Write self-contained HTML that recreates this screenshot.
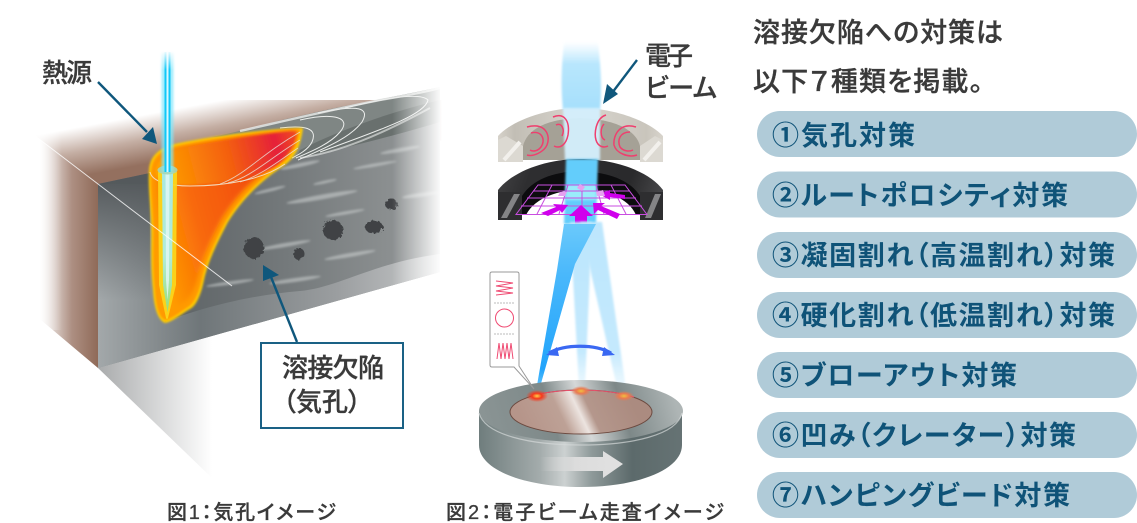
<!DOCTYPE html>
<html lang="ja"><head><meta charset="utf-8">
<style>
html,body{margin:0;padding:0;background:#fff}
svg{display:block}
text{font-family:"Liberation Sans","Noto Sans CJK JP",sans-serif;font-feature-settings:"palt"}
.l{font-size:26px;fill:#3a3a3a;font-weight:500;stroke:#3a3a3a;stroke-width:.3}
.c{font-size:20px;fill:#3a3a3a;font-weight:500;stroke:#3a3a3a;stroke-width:.3}
.h{font-size:27px;fill:#3a3a3a;font-weight:500;stroke:#3a3a3a;stroke-width:.35}
.p{font-size:27px;fill:#0f5378;font-weight:700}
</style></head><body>
<svg width="1137" height="523" viewBox="0 0 1137 523" xmlns="http://www.w3.org/2000/svg">
<defs>
<filter id="b1" x="-30%" y="-30%" width="160%" height="160%"><feGaussianBlur stdDeviation="1"/></filter>
<filter id="b2" x="-50%" y="-50%" width="200%" height="200%"><feGaussianBlur stdDeviation="2"/></filter>
<filter id="rough" x="-30%" y="-30%" width="160%" height="160%"><feTurbulence type="fractalNoise" baseFrequency=".35" numOctaves="2" seed="4"/><feDisplacementMap in="SourceGraphic" scale="5"/></filter>
<linearGradient id="side" x1="98" x2="40" y1="0" y2="0" gradientUnits="userSpaceOnUse"><stop offset="0" stop-color="#8f6a58"/><stop offset=".45" stop-color="#ad8f82"/><stop offset="1" stop-color="#fff"/></linearGradient>
<linearGradient id="topf" x1="232" y1="148" x2="223" y2="100" gradientUnits="userSpaceOnUse"><stop offset="0" stop-color="#94705f"/><stop offset=".5" stop-color="#c4aea3"/><stop offset="1" stop-color="#fff"/></linearGradient>
<linearGradient id="front" x1="98" x2="440" y1="0" y2="0" gradientUnits="userSpaceOnUse"><stop offset="0" stop-color="#6c7477"/><stop offset=".15" stop-color="#595f62"/><stop offset=".55" stop-color="#74797b"/><stop offset=".85" stop-color="#8b8f90"/></linearGradient>
<linearGradient id="low" x1="98" x2="440" y1="0" y2="0" gradientUnits="userSpaceOnUse"><stop offset="0" stop-color="#a3a8aa"/><stop offset=".3" stop-color="#6f7679"/><stop offset=".7" stop-color="#9b9ea0"/><stop offset=".95" stop-color="#c0c2c3"/></linearGradient>
<linearGradient id="dk" x1="0" x2="0" y1="180" y2="300" gradientUnits="userSpaceOnUse"><stop offset="0" stop-color="#54595c"/><stop offset="1" stop-color="#54595c" stop-opacity="0"/></linearGradient>
<linearGradient id="fade" x1="392" x2="442" y1="0" y2="0" gradientUnits="userSpaceOnUse"><stop offset="0" stop-color="#fff" stop-opacity="0"/><stop offset="1" stop-color="#fff"/></linearGradient>
<linearGradient id="lfade" x1="30" x2="62" y1="0" y2="0" gradientUnits="userSpaceOnUse"><stop offset="0" stop-color="#fff"/><stop offset="1" stop-color="#fff" stop-opacity="0"/></linearGradient>
<linearGradient id="shad" x1="98" x2="212" y1="0" y2="0" gradientUnits="userSpaceOnUse"><stop offset="0" stop-color="#a9abac"/><stop offset="1" stop-color="#fff"/></linearGradient>
<linearGradient id="pool" x1="150" x2="300" y1="220" y2="180" gradientUnits="userSpaceOnUse"><stop offset="0" stop-color="#ff9c00"/><stop offset=".3" stop-color="#f8680a"/><stop offset=".7" stop-color="#f24e0c"/><stop offset="1" stop-color="#e4173a"/></linearGradient>
<linearGradient id="ptop" x1="160" y1="170" x2="295" y2="135" gradientUnits="userSpaceOnUse"><stop offset="0" stop-color="#ffa000"/><stop offset=".5" stop-color="#f4600e"/><stop offset=".85" stop-color="#e5203a"/><stop offset="1" stop-color="#f04a20"/></linearGradient>
<linearGradient id="kh" x1="0" x2="0" y1="170" y2="315" gradientUnits="userSpaceOnUse"><stop offset="0" stop-color="#a8e8e0"/><stop offset=".6" stop-color="#b0ecd8"/><stop offset="1" stop-color="#98dc70"/></linearGradient>
<linearGradient id="bfade" x1="0" x2="0" y1="50" y2="70" gradientUnits="userSpaceOnUse"><stop offset="0" stop-color="#fff"/><stop offset="1" stop-color="#fff" stop-opacity="0"/></linearGradient>
<linearGradient id="beamT" x1="0" x2="0" y1="42" y2="105" gradientUnits="userSpaceOnUse"><stop offset="0" stop-color="#bfe9fd" stop-opacity="0"/><stop offset=".35" stop-color="#b8e6fd"/><stop offset="1" stop-color="#a8e0fc"/></linearGradient>
<linearGradient id="beamL" x1="0" x2="0" y1="222" y2="395" gradientUnits="userSpaceOnUse"><stop offset="0" stop-color="#6ccafb"/><stop offset=".3" stop-color="#4ab8fb"/><stop offset=".85" stop-color="#22a4fb"/><stop offset="1" stop-color="#7fd2fb"/></linearGradient>
<linearGradient id="beamS" x1="0" x2="0" y1="222" y2="395" gradientUnits="userSpaceOnUse"><stop offset="0" stop-color="#bce6fd"/><stop offset=".75" stop-color="#c4e9fd"/><stop offset="1" stop-color="#e6f6fd" stop-opacity=".5"/></linearGradient>
<linearGradient id="mag1" x1="498" x2="663" y1="0" y2="0" gradientUnits="userSpaceOnUse"><stop offset="0" stop-color="#d6d2ca"/><stop offset=".1" stop-color="#c2beb5"/><stop offset=".5" stop-color="#d8d5ce"/><stop offset=".9" stop-color="#c9c5bc"/><stop offset="1" stop-color="#d8d4cc"/></linearGradient>
<linearGradient id="mag2" x1="498" x2="663" y1="160" y2="220" gradientUnits="userSpaceOnUse"><stop offset="0" stop-color="#444446"/><stop offset=".2" stop-color="#2e2e30"/><stop offset=".75" stop-color="#2a2a2c"/><stop offset="1" stop-color="#505052"/></linearGradient>
<linearGradient id="diskS" x1="479" x2="683" y1="0" y2="0" gradientUnits="userSpaceOnUse"><stop offset="0" stop-color="#6f7d7d"/><stop offset=".3" stop-color="#a4acac"/><stop offset=".42" stop-color="#ccd1d1"/><stop offset=".55" stop-color="#8f9a9a"/><stop offset=".75" stop-color="#5c6a6b"/><stop offset="1" stop-color="#667374"/></linearGradient>
<linearGradient id="diskT" x1="490" y1="440" x2="670" y2="385" gradientUnits="userSpaceOnUse"><stop offset="0" stop-color="#8a9494"/><stop offset=".35" stop-color="#7e8989"/><stop offset=".52" stop-color="#d5d8d8"/><stop offset=".72" stop-color="#7d8888"/><stop offset="1" stop-color="#aeb5b5"/></linearGradient>
<linearGradient id="diskC" x1="530" y1="436" x2="625" y2="390" gradientUnits="userSpaceOnUse"><stop offset="0" stop-color="#b6958a"/><stop offset=".35" stop-color="#bda196"/><stop offset=".52" stop-color="#ece4e0"/><stop offset=".62" stop-color="#b4978c"/><stop offset="1" stop-color="#ab8b80"/></linearGradient>
<linearGradient id="arw" x1="540" x2="610" y1="0" y2="0" gradientUnits="userSpaceOnUse"><stop offset="0" stop-color="#d8d8d8" stop-opacity="0"/><stop offset=".5" stop-color="#dcdcdc"/><stop offset="1" stop-color="#e0e0e0"/></linearGradient>
<radialGradient id="spot"><stop offset="0" stop-color="#ffd24a"/><stop offset=".45" stop-color="#f4381c"/><stop offset="1" stop-color="#f4381c" stop-opacity="0"/></radialGradient>
<radialGradient id="spot2"><stop offset="0" stop-color="#f0c040"/><stop offset=".5" stop-color="#ea7a50"/><stop offset="1" stop-color="#ea7a50" stop-opacity="0"/></radialGradient>
</defs>
<rect width="1137" height="523" fill="#fff"/>

<!-- FIG 1 -->
<path d="M98 368L212 478V336Z" fill="url(#shad)"/>
<path d="M30 100H445V140L98 186L30 132Z" fill="url(#topf)"/>
<path d="M445 40V100H200Z" fill="#fff"/>
<path d="M30 132L98 184V368L35 315Z" fill="url(#side)"/>
<path d="M98 184L150 173L300 130L440 100V272L98 368Z" fill="url(#front)"/>
<path d="M98 368V184H150L165 322C190 312 240 296 300 291C340 287 372 263 440 254V272Z" fill="url(#low)"/>
<path d="M98 184L150 173V300H98Z" fill="url(#dk)"/>
<!-- bead -->
<path d="M212 137C240 132 270 122 300 116C340 106 380 100 440 87V122C400 134 340 150 290 160L295 135Z" fill="#7f8684"/>
<path d="M300 150C340 130 390 112 440 100V122C400 134 340 150 296 158Z" fill="#5f6665" opacity=".7"/>
<g fill="none" stroke="#eceeec" stroke-width="1">
<path d="M280 128C305 125 318 128 312 142C308 150 298 155 292 158"/>
<path d="M300 120C335 112 352 118 340 132C330 144 310 152 296 158"/>
<path d="M318 113C360 104 370 108 362 122C350 138 325 148 298 160"/>
<path d="M345 108C385 98 420 92 428 100C425 115 380 130 320 152"/>
<path d="M240 131C280 122 330 110 380 100C410 95 425 92 440 88" stroke-width="2.400" opacity=".8"/>
<path d="M300 158C340 152 380 135 430 108" stroke-width="2" opacity=".6"/>
</g>
<!-- streaks -->
<g fill="#cfd3d3" opacity=".55" filter="url(#b1)">
<ellipse cx="322" cy="197" rx="36" ry="2.400" transform="rotate(-10 322 197)"/><ellipse cx="345" cy="213" rx="20" ry="1.600" transform="rotate(-10 345 213)"/>
<ellipse cx="300" cy="165" rx="20" ry="2" transform="rotate(-12 300 165)"/><ellipse cx="325" cy="182" rx="12" ry="1.400" transform="rotate(-12 325 182)"/>
<ellipse cx="285" cy="245" rx="26" ry="2" transform="rotate(-10 285 245)"/><ellipse cx="350" cy="255" rx="26" ry="2" transform="rotate(-10 350 255)"/>
<ellipse cx="295" cy="280" rx="26" ry="2" transform="rotate(-8 295 280)"/><ellipse cx="230" cy="283" rx="24" ry="1.800" transform="rotate(-8 230 283)"/>
<ellipse cx="400" cy="150" rx="20" ry="2" transform="rotate(-10 400 150)"/><ellipse cx="375" cy="165" rx="22" ry="1.600" transform="rotate(-10 375 165)"/>
<ellipse cx="420" cy="195" rx="18" ry="2" transform="rotate(-8 420 195)"/><ellipse cx="270" cy="190" rx="16" ry="1.600" transform="rotate(-14 270 190)"/>
</g>
<!-- pores -->
<g fill="#3f4345" filter="url(#rough)">
<ellipse cx="254" cy="248" rx="10" ry="11"/><ellipse cx="299" cy="254" rx="5.500" ry="6"/><ellipse cx="333" cy="230" rx="10" ry="10"/><ellipse cx="374" cy="227" rx="9" ry="6.500"/><ellipse cx="391" cy="204" rx="6" ry="5.500"/>
</g>
<rect x="390" y="40" width="55" height="250" fill="url(#fade)"/>
<rect x="28" y="90" width="36" height="240" fill="url(#lfade)"/>
<!-- pool -->
<path d="M149 170C150 155 160 148 175 144C200 138 270 128 303 128C301 142 298 155 285 165C265 178 245 195 228 222C216 245 208 262 204 280C201 295 196 306 190 309C180 315 172 322 165 323C158 320 154 308 153 290C150 260 152 240 151 220C150 200 148 185 149 170Z" fill="#ffcc00" filter="url(#b1)"/>
<path d="M151 171C152 157 161 150 176 146C204 140 269 130 300 129C298 142 295 153 283 163C263 177 243 194 226 221C214 244 206 261 202 279C199 293 194 304 188 307C179 313 172 319 165 320C159 317 156 307 155 290C152 260 154 240 153 220C152 200 150 185 151 171Z" fill="#ff9a00" filter="url(#b1)"/>
<path d="M155 172C156 160 164 153 179 149C205 143 268 133 296 132C294 142 291 152 279 161C259 174 239 191 222 218C210 241 202 258 198 276C195 289 190 299 184 302C176 307 171 311 165 312C162 309 159 302 158 290C155 260 157 240 156 220C155 200 154 185 155 172Z" fill="url(#pool)" filter="url(#b2)"/>
<path d="M155 172C156 160 164 153 179 149C205 143 268 133 296 132C294 142 291 152 280 162C268 174 230 183 190 185C170 185 155 182 155 172Z" fill="url(#ptop)" filter="url(#b1)"/>
<path d="M150 172C152 182 170 186 190 186C225 186 262 180 285 164" fill="none" stroke="#f4d8b8" stroke-width="1"/>
<g fill="none" stroke="#e8e4dc" stroke-width=".9" opacity=".8">
<path d="M220 184C245 175 260 155 300 132"/><path d="M228 183C250 178 270 158 300 140"/><path d="M240 182C262 175 280 160 298 148"/>
</g>
<!-- keyhole -->
<path d="M158 172H177L176 285L168 318Q167 320 166 318L159 285Z" fill="#fbd81c" opacity=".9"/>
<path d="M162 172H173L172 285L167.500 312L163 285Z" fill="url(#kh)"/>
<path d="M165.500 172H169.500L169 280L167.500 300L166 280Z" fill="#e4f8f6" opacity=".8"/>
<ellipse cx="167.500" cy="170" rx="10" ry="4.500" fill="#a8d4b0" opacity=".9"/>
<!-- beam -->
<rect x="161.500" y="52" width="12" height="120" fill="#7fe6fb" opacity=".7" filter="url(#b1)"/>
<rect x="164.500" y="52" width="6" height="120" fill="#10c8f8"/>
<rect x="166.500" y="52" width="2" height="120" fill="#d8f8ff"/>
<rect x="158" y="48" width="20" height="22" fill="url(#bfade)"/>
<path d="M30 132L98 184L232 286" fill="none" stroke="#fff" stroke-width="1" opacity=".8"/>
<!-- arrows -->
<g stroke="#0f577c" stroke-width="2.400" fill="#0f577c">
<path d="M98 82L147 132" fill="none"/>
<path d="M157 144L142 139L153 127Z" stroke="none"/>
<path d="M297 342L269 272" fill="none"/>
<path d="M263 265L279 275L263 281Z" stroke="none"/>
<path d="M637 60L612 93" fill="none"/>
<path d="M603 104L607 84L618 94Z" stroke="none"/>
</g>
<rect x="261" y="343" width="142" height="85" fill="#fff" stroke="#1a6185" stroke-width="2"/>
<text class="l" x="42" y="82" textLength="50">熱源</text>
<text class="l" x="282" y="377" textLength="102">溶接欠陥</text>
<text class="l" x="283" y="411">（気孔）</text>
<text class="c" x="167" y="519" textLength="169">図1：気孔イメージ</text>

<!-- FIG 2 -->
<!-- upper magnet -->
<path d="M498 162V136C510 122 545 108 580 108C616 108 650 122 663 136V162H640V150C630 128 610 118 580 118C552 118 532 128 523 150V162Z" fill="url(#mag1)"/>
<path d="M523 160V146C527 130 545 119 580 118C615 119 636 130 640 146V160Z" fill="#a5a196"/>
<path d="M498 162V140L506 136L523 146V162Z" fill="#dcd9d2"/><path d="M640 162V146L655 136L663 140V162Z" fill="#dcd9d2"/>
<path d="M504 160L520 142" stroke="#f2f0ec" stroke-width="4" fill="none"/><path d="M644 160L660 142" stroke="#f2f0ec" stroke-width="4" fill="none"/>
<path d="M564 42H598C601 70 602 90 600 110H563C561 90 561 70 564 42Z" fill="url(#beamT)" filter="url(#b1)"/>
<path d="M563 108H600L600 160H565Z" fill="#d4effd" opacity=".95" filter="url(#b1)"/>
<g fill="none" stroke="#ef3f6e" stroke-width="1.500">
<path d="M527 127C545 122 551 135 547 145C544 152 533 157 527 155"/><path d="M531 133C542 130 546 140 541 147C538 151 533 152 530 150"/>
<path d="M553 117C565 112 570 122 568 135C566 145 560 149 554 146"/><path d="M556 125C562 122 565 130 562 136"/>
<path d="M606 115C596 118 594 133 596 140C598 147 604 148 608 146"/><path d="M604 124C600 128 600 138 605 140"/>
<path d="M636 127C620 122 613 135 614 145C616 153 628 158 637 155"/><path d="M630 132C620 132 617 140 620 147C623 151 629 152 633 150"/>
</g>
<!-- lower magnet -->
<path d="M498 220V190C512 172 545 159 580 159C616 159 650 172 663 190V220H640V205C625 184 608 172 580 172C552 172 536 184 522 205V220Z" fill="url(#mag2)"/>
<path d="M522 214V196C532 180 552 172 580 171C608 172 630 180 640 196V214Z" fill="#0c0c0e"/>
<path d="M498 192H522V220H498Z" fill="#2e2e30"/><path d="M640 192H663V220H640Z" fill="#2e2e30"/>
<path d="M501 218L514 194H520L507 218Z" fill="#9a9a9c" opacity=".8"/><path d="M645 218L655 194H661L651 218Z" fill="#9a9a9c" opacity=".8"/>
<path d="M526 215C535 197 560 190 580 190C605 190 628 197 636 215Z" fill="#fff"/>
<path d="M566 159H598L596 224H564Z" fill="#63cdfb" filter="url(#b1)"/>
<path d="M566 185H596V200H566Z" fill="#a8f4fb" opacity=".8" filter="url(#b1)"/>
<!-- grid -->
<g fill="none" stroke="#c94ee0" stroke-width="1">
<path d="M538 185H625L647 214.500H516Z"/>
<path d="M533 191H630M527 198H636M521 206H642M552 185L537 214M568 185L559 214M582 185V214M596 185L604 214M611 185L626 214"/>
</g>
<g fill="#d000ec">
<path d="M581 205L593 216H587V224H575V216H569Z"/>
<path d="M593 203L605 203L601 206L620 214L617 219L598 210L594 214Z"/>
<path d="M568 205L553 204L556 207L541 213L548 216L560 210L562 213Z"/>
<path d="M599 194L610 190L610 193L625 195L625 199L610 197L610 200Z"/>
<path d="M560 192L567 192L565 196L558 196Z" fill="#e6a0f0"/><path d="M596 192L603 190L605 196L597 196Z" fill="#e6a0f0"/><path d="M580 184L585 187L582 191L577 188Z" fill="#e6a0f0"/>
</g>
<!-- beams lower -->
<path d="M580 222H602L627 396L619 396L588 260Z" fill="url(#beamS)" filter="url(#b1)"/>
<path d="M570 222H592L585 388L579 388Z" fill="url(#beamS)" filter="url(#b1)"/>
<path d="M564 224H596L575 264L538 394L535.500 394L557 270Z" fill="url(#beamL)"/>
<path d="M549 353C565 344 595 344 611 353" fill="none" stroke="#3a68f2" stroke-width="3.200"/>
<path d="M546 355L557 347L559 356Z" fill="#3a68f2"/><path d="M615 355L604 347L602 356Z" fill="#3a68f2"/>
<!-- disk -->
<path d="M479 411V445C479 470 525 487 581 487C637 487 682 470 682 445V411Z" fill="url(#diskS)"/>
<ellipse cx="581" cy="411" rx="102" ry="31" fill="url(#diskT)"/>
<path d="M479 413C485 435 530 445 581 445C632 445 677 435 682 413" fill="none" stroke="#d4d9d9" stroke-width="1.200" opacity=".7"/>
<ellipse cx="581" cy="412" rx="71" ry="22" fill="url(#diskC)" stroke="#6c4a40" stroke-width="1"/>
<path d="M531 396C560 388 605 388 634 397" fill="none" stroke="#e8506a" stroke-width="1"/>
<path d="M540 457H603V451L623 464L603 478V471H540Z" fill="url(#arw)"/>
<ellipse cx="537" cy="396" rx="11" ry="6" fill="url(#spot)"/>
<ellipse cx="581" cy="391" rx="10" ry="5" fill="url(#spot2)"/>
<ellipse cx="624" cy="396" rx="10" ry="5" fill="url(#spot2)"/>
<!-- callout -->
<path d="M492 272H517Q519 272 519 274V366L534 389L514 367H492Q490 367 490 365V274Q490 272 492 272Z" fill="#fff" stroke="#9a9a9a" stroke-width="1"/>
<path d="M494 303H515M494 334H515" stroke="#bbb" stroke-width="1" stroke-dasharray="2 1" fill="none"/>
<g fill="none" stroke="#ef4a72" stroke-width="1">
<path d="M496 281L513 283L496 286L513 288L496 291L513 293L496 295"/>
<circle cx="504.500" cy="318" r="9"/>
<path d="M497 359L499 343L501 359L503 343L505 359L507 343L509 359L511 343L513 359"/>
</g>
<text class="l" x="645" y="65" textLength="48">電子</text>
<text class="l" x="645" y="97" textLength="72">ビーム</text>
<text class="c" x="446" y="519" textLength="278">図2：電子ビーム走査イメージ</text>

<!-- RIGHT -->
<text class="h" x="753" y="42" textLength="250">溶接欠陥への対策は</text>
<text class="h" x="753" y="91" textLength="230">以下７種類を掲載。</text>
<g fill="#b0cbd8">
<rect x="757" y="111" width="380" height="46" rx="23"/>
<rect x="757" y="171.500" width="380" height="46" rx="23"/>
<rect x="757" y="232" width="380" height="46" rx="23"/>
<rect x="757" y="292" width="380" height="46" rx="23"/>
<rect x="757" y="352" width="380" height="46" rx="23"/>
<rect x="757" y="412" width="380" height="46" rx="23"/>
<rect x="757" y="472" width="380" height="46" rx="23"/>
</g>
<text class="p" x="772" y="145" textLength="143">①気孔対策</text>
<text class="p" x="772" y="205" textLength="296">②ルートポロシティ対策</text>
<text class="p" x="772" y="265" textLength="343">③凝固割れ（高温割れ）対策</text>
<text class="p" x="772" y="325" textLength="343">④硬化割れ（低温割れ）対策</text>
<text class="p" x="772" y="385" textLength="245">⑤ブローアウト対策</text>
<text class="p" x="772" y="445" textLength="304">⑥凹み（クレーター）対策</text>
<text class="p" x="772" y="505" textLength="298">⑦ハンピングビード対策</text>
</svg>
</body></html>
